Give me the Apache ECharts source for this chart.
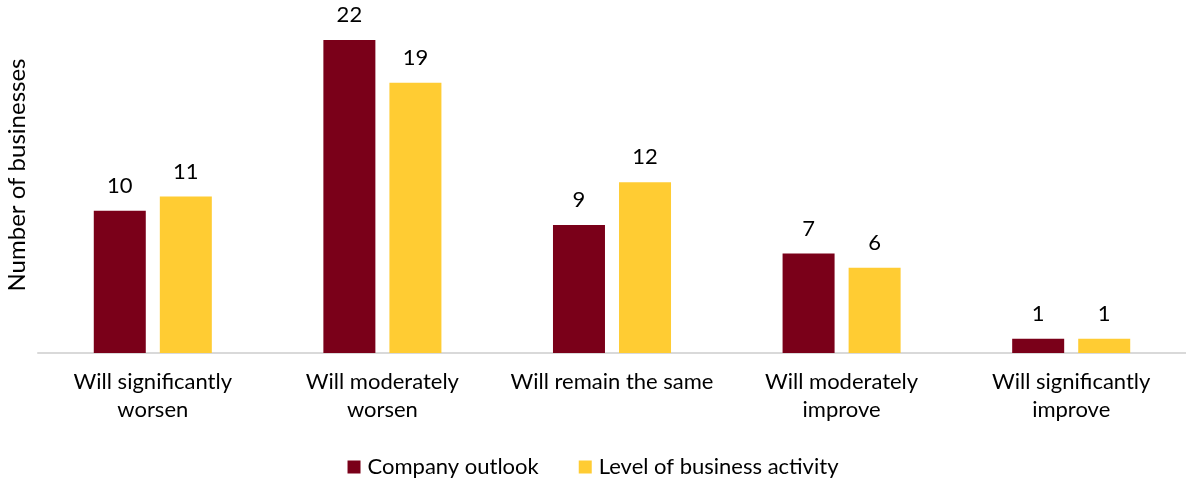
<!DOCTYPE html>
<html>
<head>
<meta charset="utf-8">
<script src="https://cdn.jsdelivr.net/npm/echarts@6/dist/echarts.min.js"></script>
<style>html,body{margin:0;padding:0;background:#fff}#c{width:1186px;height:480px}</style>
</head>
<body>
<div id="c"></div>
<script>
const categories = ['Will significantly\nworsen', 'Will moderately\nworsen', 'Will remain the same', 'Will moderately\nimprove', 'Will significantly\nimprove'];
const companyOutlook = [10, 22, 9, 7, 1];
const businessActivity = [11, 19, 12, 6, 1];
const seriesNames = ['Company outlook', 'Level of business activity'];
const yAxisTitle = 'Number of businesses';

const FONT = 'Lato';
const FS = 22;
const chart = echarts.init(document.getElementById('c'));
chart.setOption({
  animation: false,
  textStyle: { fontFamily: FONT },
  color: ['#7A0019', '#FFCC33'],
  grid: { left: 38, right: 0, top: 40, bottom: 127 },
  legend: {
    top: 451,
    left: 'center',
    itemWidth: 13, itemHeight: 13, itemGap: 40,
    icon: 'rect',
    textStyle: { fontSize: FS, color: '#000', fontFamily: FONT, padding: [0, 0, 0, 2] },
    data: seriesNames
  },
  graphic: [{
    type: 'text', x: 17, y: 175, rotation: Math.PI / 2,
    style: { text: yAxisTitle, fontSize: 24, fill: '#000', fontFamily: FONT, align: 'center', verticalAlign: 'middle' }
  }],
  xAxis: {
    type: 'category', data: categories,
    axisLine: { lineStyle: { color: '#d9d9d9', width: 2 } },
    axisTick: { show: false },
    axisLabel: { color: '#000', fontSize: FS, lineHeight: 28, margin: 15, interval: 0, fontFamily: FONT }
  },
  yAxis: {
    type: 'value', min: 0, max: 22,
    axisLine: { show: false }, axisTick: { show: false }, axisLabel: { show: false }, splitLine: { show: false }
  },
  series: [
    { name: seriesNames[0], type: 'bar', data: companyOutlook, barWidth: 52, barGap: '27%',
      label: { show: true, position: 'top', distance: 14, color: '#000', fontSize: FS, fontFamily: FONT } },
    { name: seriesNames[1], type: 'bar', data: businessActivity, barWidth: 52, barGap: '27%',
      label: { show: true, position: 'top', distance: 14, color: '#000', fontSize: FS, fontFamily: FONT } }
  ]
});
</script>
</body>
</html>
